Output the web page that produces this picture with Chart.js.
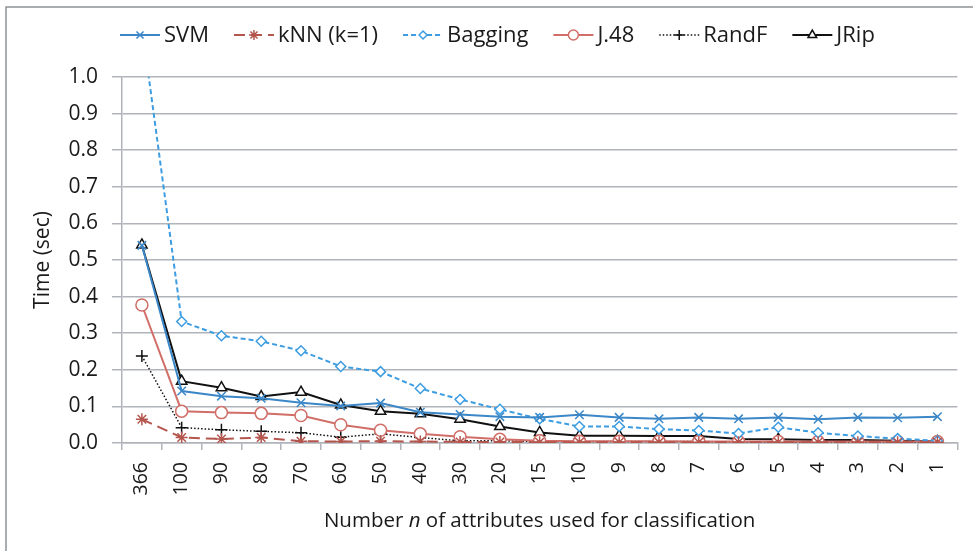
<!DOCTYPE html>
<html>
<head>
<meta charset="utf-8">
<script src="https://cdn.jsdelivr.net/npm/chart.js@4/dist/chart.umd.min.js"></script>
<style>
  html, body { margin: 0; padding: 0; background: #fff; }
  #wrap { width: 973px; height: 551px; position: relative; }
</style>
</head>
<body>
<div id="wrap"><canvas id="timeChart" width="973" height="551"></canvas></div>
<script>
// number of attributes kept (x categories)
const attrCounts = ["366", "100", "90", "80", "70", "60", "50", "40", "30", "20", "15", "10", "9", "8", "7", "6", "5", "4", "3", "2", "1"];
const yTicks = [0, 0.1, 0.2, 0.3, 0.4, 0.5, 0.6, 0.7, 0.8, 0.9, 1.0];

// time in seconds
const svmTime     = [0.54, 0.142, 0.128, 0.122, 0.110, 0.101, 0.109, 0.084, 0.078, 0.072, 0.070, 0.077, 0.070, 0.066, 0.070, 0.066, 0.070, 0.065, 0.070, 0.069, 0.072];
const knnTime     = [0.065, 0.015, 0.011, 0.015, 0.005, 0.004, 0.005, 0.004, 0.003, 0.003, 0.002, 0.002, 0.002, 0.002, 0.002, 0.002, 0.002, 0.002, 0.002, 0.002, 0.002];
const baggingTime = [1.14, 0.332, 0.293, 0.278, 0.252, 0.209, 0.195, 0.149, 0.119, 0.092, 0.066, 0.045, 0.045, 0.038, 0.034, 0.026, 0.043, 0.028, 0.019, 0.012, 0.006];
const j48Time     = [0.377, 0.087, 0.083, 0.081, 0.075, 0.050, 0.035, 0.025, 0.017, 0.010, 0.006, 0.005, 0.005, 0.005, 0.004, 0.004, 0.004, 0.004, 0.004, 0.004, 0.004];
const randfTime   = [0.238, 0.042, 0.036, 0.032, 0.028, 0.016, 0.025, 0.015, 0.006, 0.006, 0.004, 0.004, 0.004, 0.004, 0.004, 0.003, 0.003, 0.003, 0.003, 0.003, 0.003];
const jripTime    = [0.541, 0.169, 0.151, 0.127, 0.139, 0.104, 0.087, 0.080, 0.065, 0.045, 0.029, 0.020, 0.020, 0.019, 0.019, 0.011, 0.010, 0.008, 0.008, 0.006, 0.004];

const FONT = "'Open Sans', sans-serif";
const GRID = "#b0b4ba";

function series(label, data, color, dash, width, style, radius, fill) {
  return {
    label: label,
    data: data,
    borderColor: color,
    backgroundColor: fill,
    borderWidth: width,
    borderDash: dash,
    pointStyle: style,
    pointRadius: radius,
    pointBorderColor: color,
    pointBackgroundColor: fill,
    pointBorderWidth: 1.5,
    tension: 0
  };
}

// frame round the figure (only top and left show in the original)
const framePlugin = {
  id: "frame",
  beforeDraw(chart) {
    const ctx = chart.ctx;
    ctx.save();
    ctx.strokeStyle = "#8e9297";
    ctx.lineWidth = 1.5;
    ctx.beginPath();
    ctx.moveTo(6, 551);
    ctx.lineTo(6, 7);
    ctx.lineTo(973, 7);
    ctx.stroke();
    ctx.restore();
  }
};

// legend with line sample + marker, drawn like the spreadsheet one
const lineLegend = {
  id: "lineLegend",
  afterDraw(chart) {
    const ctx = chart.ctx;
    let x = 120;
    const y = 35;
    ctx.save();
    ctx.font = "22px " + FONT;
    ctx.textBaseline = "middle";
    chart.data.datasets.forEach(ds => {
      ctx.strokeStyle = ds.borderColor;
      ctx.lineWidth = ds.borderWidth;
      ctx.setLineDash(ds.borderDash || []);
      ctx.beginPath();
      ctx.moveTo(x, y);
      ctx.lineTo(x + 40, y);
      ctx.stroke();
      ctx.setLineDash([]);
      ctx.fillStyle = ds.pointBackgroundColor;
      ctx.lineWidth = 1.5;
      Chart.helpers.drawPoint(ctx, {pointStyle: ds.pointStyle, radius: ds.pointRadius - 1, borderWidth: 1.5, rotation: 0}, x + 20, y);
      ctx.fillStyle = "#1a1a1a";
      ctx.fillText(ds.label, x + 44, y + 1);
      x += 44 + ctx.measureText(ds.label).width + 25;
    });
    ctx.restore();
  }
};

// x axis title, with an italic n
const xTitle = {
  id: "xTitle",
  afterDraw(chart) {
    const ctx = chart.ctx;
    const a = chart.chartArea;
    const parts = [["Number ", ""], ["n", "italic "], [" of attributes used for classification", ""]];
    ctx.save();
    ctx.fillStyle = "#1a1a1a";
    ctx.textBaseline = "middle";
    let total = 0;
    parts.forEach(p => { ctx.font = p[1] + "20.5px " + FONT; total += ctx.measureText(p[0]).width; });
    let x = (a.left + a.right) / 2 - total / 2;
    parts.forEach(p => {
      ctx.font = p[1] + "20.5px " + FONT;
      ctx.fillText(p[0], x, 521);
      x += ctx.measureText(p[0]).width;
    });
    ctx.restore();
  }
};

new Chart(document.getElementById("timeChart"), {
  type: "line",
  data: {
    labels: attrCounts,
    datasets: [
      series("SVM", svmTime, "#3b87c7", [], 2, "crossRot", 6, "#3b87c7"),
      series("kNN (k=1)", knnTime, "#b4564e", [11, 6], 2, "star", 6, "#b4564e"),
      series("Bagging", baggingTime, "#3c9de2", [5, 3], 2, "rectRot", 5, "#ffffff"),
      series("J.48", j48Time, "#d06e67", [], 2, "circle", 6, "#ffffff"),
      series("RandF", randfTime, "#111111", [1.5, 2], 1.5, "cross", 6, "#111111"),
      series("JRip", jripTime, "#111111", [], 2, "triangle", 6, "#ffffff")
    ]
  },
  options: {
    responsive: false,
    animation: false,
    devicePixelRatio: 1,
    layout: { padding: { left: 6, top: 77, right: 8, bottom: 0 } },
    plugins: {
      legend: { display: false },
      tooltip: { enabled: false }
    },
    scales: {
      x: {
        offset: true,
        afterFit(scale) { scale.height = 108; },
        grid: { offset: true, drawOnChartArea: false, color: GRID, tickLength: 7, lineWidth: 1.5 },
        border: { color: GRID, width: 1.5 },
        ticks: {
          minRotation: 90, maxRotation: 90, autoSkip: false, padding: 12,
          color: "#1a1a1a", font: { family: FONT, size: 19.5 }
        }
      },
      y: {
        min: 0, max: 1,
        afterFit(scale) { scale.width = 116; },
        afterBuildTicks(scale) { scale.ticks = yTicks.map(v => ({ value: v })); },
        grid: { color: GRID, tickLength: 10, lineWidth: 1.5 },
        border: { color: GRID, width: 1.5 },
        ticks: {
          padding: 14, color: "#1a1a1a", font: { family: FONT, size: 21 },
          callback: v => Number(v).toFixed(1)
        },
        title: {
          display: true, text: "Time (sec)", color: "#1a1a1a",
          font: { family: FONT, size: 21 }, padding: { top: 24, bottom: 4 }
        }
      }
    }
  },
  plugins: [framePlugin, lineLegend, xTitle]
});
</script>
</body>
</html>
